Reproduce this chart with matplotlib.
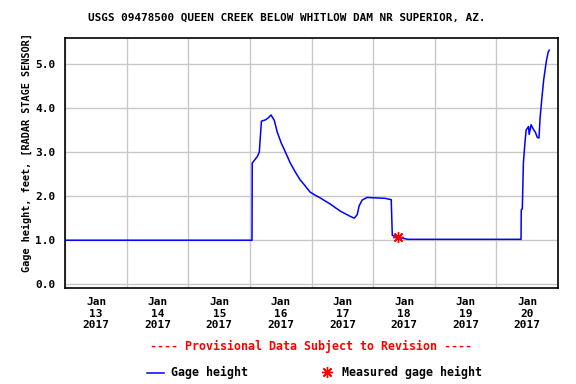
import matplotlib
matplotlib.use("Agg")
import matplotlib.pyplot as plt
import matplotlib.dates as mdates
from matplotlib.lines import Line2D
import pandas as pd

# gage height readings (feet)
times = [
    "2017-01-13 00:00", "2017-01-14 00:00", "2017-01-15 00:00", "2017-01-16 00:45",
    "2017-01-16 00:50", "2017-01-16 01:15", "2017-01-16 02:50", "2017-01-16 03:35",
    "2017-01-16 04:25", "2017-01-16 06:00", "2017-01-16 07:10", "2017-01-16 08:10",
    "2017-01-16 09:25", "2017-01-16 10:35", "2017-01-16 12:10", "2017-01-16 13:45",
    "2017-01-16 15:40", "2017-01-16 17:35", "2017-01-16 19:30", "2017-01-16 21:30",
    "2017-01-16 23:25", "2017-01-17 01:25", "2017-01-17 03:20", "2017-01-17 05:15",
    "2017-01-17 07:15", "2017-01-17 09:10", "2017-01-17 11:10", "2017-01-17 13:05",
    "2017-01-17 15:05", "2017-01-17 16:35", "2017-01-17 17:45", "2017-01-17 18:30",
    "2017-01-17 19:40", "2017-01-17 21:35", "2017-01-18 00:45", "2017-01-18 04:35",
    "2017-01-18 07:00", "2017-01-18 07:25", "2017-01-18 09:45", "2017-01-18 11:40",
    "2017-01-18 13:35", "2017-01-19 12:00", "2017-01-20 09:35", "2017-01-20 09:40",
    "2017-01-20 10:05", "2017-01-20 10:30", "2017-01-20 11:05", "2017-01-20 11:35",
    "2017-01-20 12:30", "2017-01-20 12:45", "2017-01-20 13:30", "2017-01-20 14:20",
    "2017-01-20 15:10", "2017-01-20 15:55", "2017-01-20 16:35", "2017-01-20 17:00",
    "2017-01-20 17:45", "2017-01-20 18:25", "2017-01-20 19:25", "2017-01-20 20:10",
    "2017-01-20 20:35",
]
gage = [
    1.00, 1.00, 1.00, 1.00,
    2.75, 2.78, 2.90, 3.00,
    3.70, 3.73, 3.78, 3.84,
    3.72, 3.45, 3.20, 3.00,
    2.75, 2.55, 2.37, 2.23,
    2.09, 2.02, 1.96, 1.89,
    1.82, 1.74, 1.66, 1.60,
    1.54, 1.50, 1.58, 1.78,
    1.91, 1.97, 1.96, 1.95,
    1.92, 1.11, 1.07, 1.04,
    1.02, 1.02, 1.02, 1.69,
    1.71, 2.75, 3.20, 3.50,
    3.58, 3.40, 3.62, 3.52,
    3.45, 3.33, 3.32, 3.77,
    4.25, 4.64, 5.05, 5.27,
    5.31,
]
meas_time = ["2017-01-18 09:45"]
meas_val = [1.08]

title = "USGS 09478500 QUEEN CREEK BELOW WHITLOW DAM NR SUPERIOR, AZ."
ylabel = "Gage height, feet, [RADAR STAGE SENSOR]"

t = pd.to_datetime(times)
tm = pd.to_datetime(meas_time)

mono = "DejaVu Sans Mono"
fig = plt.figure(figsize=(5.76, 3.84), dpi=100)
ax = fig.add_axes([0.1134, 0.2508, 0.8554, 0.6495])

ax.plot(t, gage, color="#0000ff", lw=1.1)
ax.plot(tm, meas_val, ls="none", marker=(8, 2, 0), ms=8, mew=1.0, color="red")

ax.set_xlim(pd.Timestamp("2017-01-13"), pd.Timestamp("2017-01-21"))
ax.set_ylim(-0.077, 5.58)
ax.set_yticks([0, 1, 2, 3, 4, 5])
ax.yaxis.set_major_formatter(plt.FormatStrFormatter("%.1f"))

# grid at midnight, labels at noon
ax.xaxis.set_major_locator(mdates.DayLocator())
ax.xaxis.set_major_formatter(plt.NullFormatter())
ax.xaxis.set_minor_locator(mdates.HourLocator(byhour=[12]))
ax.xaxis.set_minor_formatter(mdates.DateFormatter("Jan\n%d\n%Y"))
ax.tick_params(axis="x", which="both", length=0)
ax.tick_params(axis="x", which="minor", pad=7)
ax.tick_params(axis="y", length=0, pad=7)
for lab in ax.get_xticklabels(minor=True) + ax.get_yticklabels():
    lab.set_fontfamily(mono)
    lab.set_fontweight("bold")
    lab.set_fontsize(8.0)
for lab in ax.get_xticklabels(minor=True):
    lab.set_linespacing(1.15)

ax.grid(True, which="major", color="#c8c8c8", lw=1.0)
ax.set_axisbelow(True)
for s in ax.spines.values():
    s.set_linewidth(1.2)

fig.text(0.497, 0.953, title, ha="center", va="center",
         fontfamily=mono, fontweight="bold", fontsize=7.9)
fig.text(0.047, 0.603, ylabel, rotation=90, ha="center", va="center",
         fontfamily=mono, fontweight="bold", fontsize=7.35)
fig.text(0.54, 0.099, "---- Provisional Data Subject to Revision ----",
         ha="center", va="center", color="red",
         fontfamily=mono, fontweight="bold", fontsize=8.4)

# legend row
fig.add_artist(Line2D([147 / 576, 164 / 576], [0.029, 0.029], color="#0000ff", lw=1.1))
fig.text(171 / 576, 0.029, "Gage height", ha="left", va="center",
         fontfamily=mono, fontweight="bold", fontsize=8.4)
fig.add_artist(Line2D([327 / 576], [0.031], ls="none", marker=(8, 2, 0), ms=8,
                      mew=1.0, color="red"))
fig.text(342 / 576, 0.029, "Measured gage height", ha="left", va="center",
         fontfamily=mono, fontweight="bold", fontsize=8.4)

fig.savefig("out.png", dpi=100)
